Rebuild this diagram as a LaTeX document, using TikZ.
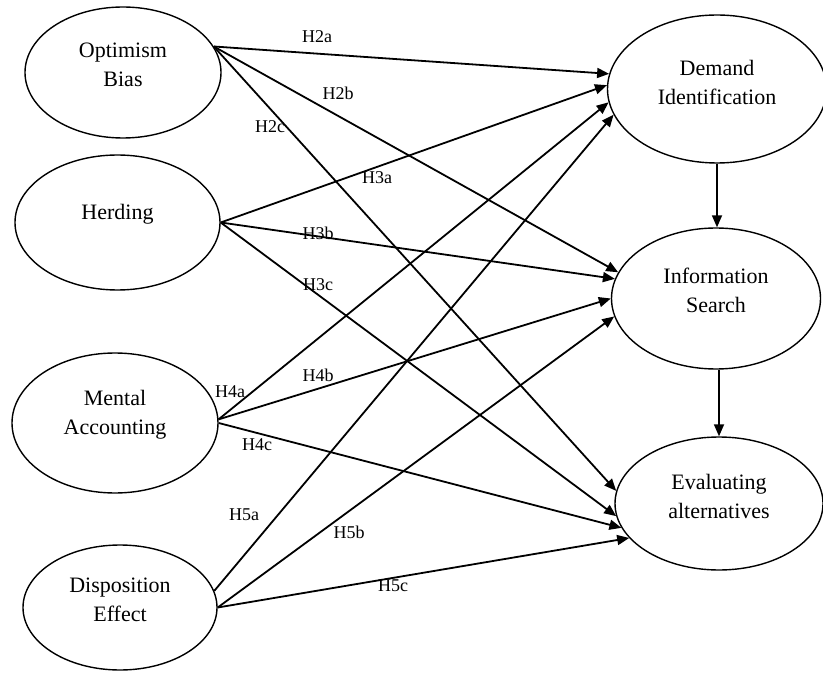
\documentclass[tikz,border=0pt]{standalone}
\usepackage{fontspec}
\setmainfont{Liberation Serif}
\usetikzlibrary{shapes.geometric,arrows.meta}
\tikzset{construct/.style={ellipse,draw,line width=0.7pt,inner sep=0pt},
  term/.style={align=center,font=\fontsize{11}{14.5}\selectfont},
  hyp/.style={font=\fontsize{9}{10}\selectfont,inner sep=1pt},
  link/.style={-{Triangle[length=6pt,width=5pt]},line width=0.9pt}}

\begin{document}
\begin{tikzpicture}[x=0.5pt,y=-0.5pt]
              \useasboundingbox (0,0) rectangle (823,673);

              % biases
              \node[construct,minimum width=98pt,minimum height=65.5pt] (ob) at (123,72.5) {};
              \node[construct,minimum width=102.5pt,minimum height=67.5pt] (hd) at (117.5,222.5) {};
              \node[construct,minimum width=103pt,minimum height=70pt] (ma) at (115,423) {};
              \node[construct,minimum width=97pt,minimum height=62.5pt] (de) at (120,607.5) {};

              \node[term] (obt) at ([yshift=4pt]ob.center) {Optimism\\Bias};
              \node[term] (hdt) at ([yshift=4pt]hd.center) {Herding};
              \node[term] (mat) at ([yshift=4pt]ma.center) {Mental\\Accounting};
              \node[term] (det) at ([yshift=4pt]de.center) {Disposition\\Effect};

              % decision stages
              \node[construct,minimum width=109.5pt,minimum height=74pt] (di) at (717,89) {};
              \node[construct,minimum width=104.5pt,minimum height=70.5pt] (is) at (716,298.5) {};
              \node[construct,minimum width=104pt,minimum height=66.5pt] (ea) at (719,503.5) {};

              \node[term] (dit) at ([yshift=3.5pt]di.center) {Demand\\Identification};
              \node[term] (ist) at ([yshift=4pt]is.center) {Information\\Search};
              \node[term] (eat) at ([yshift=3.5pt]ea.center) {Evaluating\\alternatives};

              \path[link]
              (ob.16) edge (di.172)
              (ob.16) edge (is.165)
              (ob.16) edge (ea.173)

              (hd.east) edge (di.178)
              (hd.east) edge (is.169)
              (hd.east) edge (ea.187)

              (ma.2) edge (di.187)
              (ma.2) edge (is.180)
              (ma.east) edge (ea.194)

              (de.10) edge (di.194)
              (de.east) edge (is.190)
              (de.east) edge (ea.201)

              (di.south) edge (di.south |- is.north)
              (ea.north |- is.south) edge (ea.north)
              ;

              % hypotheses
              \node[hyp] (l2a) at (317,37) {H2a};
              \node[hyp] (l2b) at (338,93) {H2b};
              \node[hyp] (l2c) at (270,127) {H2c};
              \node[hyp] (l3a) at (377,178) {H3a};
              \node[hyp] (l3b) at (318,233) {H3b};
              \node[hyp] (l3c) at (318,285) {H3c};
              \node[hyp] (l4a) at (230,392) {H4a};
              \node[hyp] (l4b) at (318,375) {H4b};
              \node[hyp] (l4c) at (257,445) {H4c};
              \node[hyp] (l5a) at (244,515) {H5a};
              \node[hyp] (l5b) at (349,532) {H5b};
              \node[hyp] (l5c) at (393,586) {H5c};
            \end{tikzpicture}
\end{document}
